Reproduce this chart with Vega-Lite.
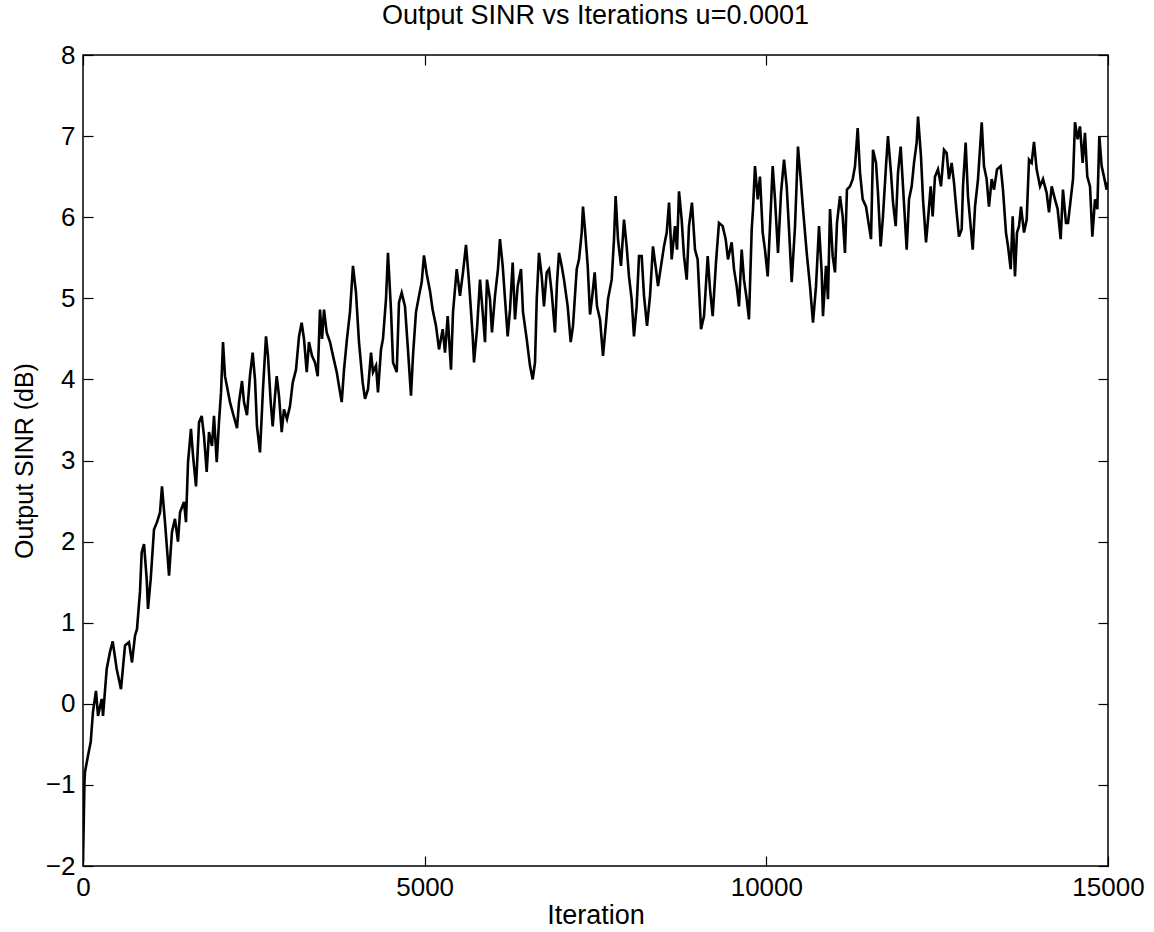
{
  "$schema": "https://vega.github.io/schema/vega-lite/v6.json",
  "autosize": {"type": "none"},
  "width": 1025,
  "height": 811,
  "padding": {"left": 83, "top": 55, "right": 46, "bottom": 66},
  "background": "white",
  "title": {
    "text": "Output SINR vs Iterations u=0.0001",
    "fontSize": 27,
    "fontWeight": "normal",
    "font": "Liberation Sans",
    "color": "black",
    "anchor": "middle",
    "offset": 12
  },
  "config": {
    "view": {"stroke": "black", "strokeWidth": 1.5},
    "axis": {
      "labelFont": "Liberation Sans",
      "titleFont": "Liberation Sans",
      "labelFontSize": 26,
      "titleFontSize": 26,
      "titleFontWeight": "normal",
      "labelColor": "black",
      "titleColor": "black",
      "tickColor": "black",
      "domainColor": "black",
      "tickSize": -10,
      "tickWidth": 1.2,
      "labelFlush": false,
      "grid": false
    }
  },
  "data": {
    "values": [
      {"iteration": 0, "sinr": -1.95},
      {"iteration": 22, "sinr": -0.95},
      {"iteration": 29, "sinr": -0.84},
      {"iteration": 73, "sinr": -0.64},
      {"iteration": 113, "sinr": -0.47},
      {"iteration": 146, "sinr": -0.1},
      {"iteration": 190, "sinr": 0.16},
      {"iteration": 220, "sinr": -0.15},
      {"iteration": 274, "sinr": 0.06},
      {"iteration": 293, "sinr": -0.15},
      {"iteration": 347, "sinr": 0.43},
      {"iteration": 395, "sinr": 0.64},
      {"iteration": 435, "sinr": 0.77},
      {"iteration": 493, "sinr": 0.43},
      {"iteration": 556, "sinr": 0.18},
      {"iteration": 615, "sinr": 0.72},
      {"iteration": 673, "sinr": 0.76},
      {"iteration": 717, "sinr": 0.51},
      {"iteration": 761, "sinr": 0.84},
      {"iteration": 790, "sinr": 0.92},
      {"iteration": 834, "sinr": 1.38},
      {"iteration": 859, "sinr": 1.87},
      {"iteration": 893, "sinr": 1.97},
      {"iteration": 932, "sinr": 1.54},
      {"iteration": 951, "sinr": 1.17},
      {"iteration": 991, "sinr": 1.54},
      {"iteration": 1039, "sinr": 2.15},
      {"iteration": 1083, "sinr": 2.24},
      {"iteration": 1127, "sinr": 2.36},
      {"iteration": 1156, "sinr": 2.68},
      {"iteration": 1200, "sinr": 2.24},
      {"iteration": 1259, "sinr": 1.58},
      {"iteration": 1302, "sinr": 2.12},
      {"iteration": 1346, "sinr": 2.28},
      {"iteration": 1390, "sinr": 2.0},
      {"iteration": 1420, "sinr": 2.36},
      {"iteration": 1478, "sinr": 2.49},
      {"iteration": 1507, "sinr": 2.24},
      {"iteration": 1537, "sinr": 2.98},
      {"iteration": 1580, "sinr": 3.39},
      {"iteration": 1610, "sinr": 3.06},
      {"iteration": 1654, "sinr": 2.68},
      {"iteration": 1698, "sinr": 3.47},
      {"iteration": 1737, "sinr": 3.55},
      {"iteration": 1771, "sinr": 3.3},
      {"iteration": 1810, "sinr": 2.86},
      {"iteration": 1844, "sinr": 3.35},
      {"iteration": 1888, "sinr": 3.18},
      {"iteration": 1917, "sinr": 3.55},
      {"iteration": 1957, "sinr": 2.98},
      {"iteration": 1990, "sinr": 3.47},
      {"iteration": 2020, "sinr": 3.84},
      {"iteration": 2049, "sinr": 4.46},
      {"iteration": 2078, "sinr": 4.04},
      {"iteration": 2151, "sinr": 3.72},
      {"iteration": 2195, "sinr": 3.58},
      {"iteration": 2254, "sinr": 3.4},
      {"iteration": 2283, "sinr": 3.72},
      {"iteration": 2327, "sinr": 3.98},
      {"iteration": 2356, "sinr": 3.72},
      {"iteration": 2400, "sinr": 3.56},
      {"iteration": 2444, "sinr": 4.05},
      {"iteration": 2483, "sinr": 4.33},
      {"iteration": 2517, "sinr": 4.0},
      {"iteration": 2546, "sinr": 3.42},
      {"iteration": 2590, "sinr": 3.1},
      {"iteration": 2634, "sinr": 3.88},
      {"iteration": 2678, "sinr": 4.53},
      {"iteration": 2707, "sinr": 4.29},
      {"iteration": 2747, "sinr": 3.72},
      {"iteration": 2776, "sinr": 3.42},
      {"iteration": 2810, "sinr": 3.8},
      {"iteration": 2835, "sinr": 4.04},
      {"iteration": 2868, "sinr": 3.8},
      {"iteration": 2908, "sinr": 3.35},
      {"iteration": 2941, "sinr": 3.63},
      {"iteration": 2985, "sinr": 3.51},
      {"iteration": 3029, "sinr": 3.67},
      {"iteration": 3069, "sinr": 3.96},
      {"iteration": 3117, "sinr": 4.12},
      {"iteration": 3161, "sinr": 4.53},
      {"iteration": 3200, "sinr": 4.7},
      {"iteration": 3234, "sinr": 4.5},
      {"iteration": 3274, "sinr": 4.09},
      {"iteration": 3307, "sinr": 4.46},
      {"iteration": 3351, "sinr": 4.29},
      {"iteration": 3395, "sinr": 4.21},
      {"iteration": 3435, "sinr": 4.04},
      {"iteration": 3468, "sinr": 4.86},
      {"iteration": 3498, "sinr": 4.5},
      {"iteration": 3527, "sinr": 4.86},
      {"iteration": 3566, "sinr": 4.58},
      {"iteration": 3615, "sinr": 4.46},
      {"iteration": 3659, "sinr": 4.29},
      {"iteration": 3713, "sinr": 4.09},
      {"iteration": 3746, "sinr": 3.92},
      {"iteration": 3786, "sinr": 3.72},
      {"iteration": 3820, "sinr": 4.12},
      {"iteration": 3863, "sinr": 4.5},
      {"iteration": 3907, "sinr": 4.83},
      {"iteration": 3951, "sinr": 5.4},
      {"iteration": 3995, "sinr": 5.07},
      {"iteration": 4039, "sinr": 4.46},
      {"iteration": 4093, "sinr": 3.96},
      {"iteration": 4127, "sinr": 3.76},
      {"iteration": 4171, "sinr": 3.88},
      {"iteration": 4215, "sinr": 4.33},
      {"iteration": 4244, "sinr": 4.09},
      {"iteration": 4288, "sinr": 4.17},
      {"iteration": 4317, "sinr": 3.84},
      {"iteration": 4361, "sinr": 4.37},
      {"iteration": 4390, "sinr": 4.5},
      {"iteration": 4434, "sinr": 4.99},
      {"iteration": 4463, "sinr": 5.56},
      {"iteration": 4507, "sinr": 4.86},
      {"iteration": 4537, "sinr": 4.21},
      {"iteration": 4591, "sinr": 4.09},
      {"iteration": 4624, "sinr": 4.95},
      {"iteration": 4664, "sinr": 5.07},
      {"iteration": 4712, "sinr": 4.9},
      {"iteration": 4752, "sinr": 4.41},
      {"iteration": 4800, "sinr": 3.8},
      {"iteration": 4829, "sinr": 4.29},
      {"iteration": 4873, "sinr": 4.83},
      {"iteration": 4917, "sinr": 5.03},
      {"iteration": 4957, "sinr": 5.2},
      {"iteration": 4990, "sinr": 5.53},
      {"iteration": 5030, "sinr": 5.3},
      {"iteration": 5078, "sinr": 5.09},
      {"iteration": 5117, "sinr": 4.86},
      {"iteration": 5166, "sinr": 4.66},
      {"iteration": 5210, "sinr": 4.37},
      {"iteration": 5264, "sinr": 4.62},
      {"iteration": 5298, "sinr": 4.33},
      {"iteration": 5337, "sinr": 4.78},
      {"iteration": 5385, "sinr": 4.12},
      {"iteration": 5415, "sinr": 4.83},
      {"iteration": 5469, "sinr": 5.36},
      {"iteration": 5517, "sinr": 5.03},
      {"iteration": 5561, "sinr": 5.32},
      {"iteration": 5605, "sinr": 5.66},
      {"iteration": 5649, "sinr": 5.2},
      {"iteration": 5703, "sinr": 4.53},
      {"iteration": 5722, "sinr": 4.21},
      {"iteration": 5766, "sinr": 4.62},
      {"iteration": 5810, "sinr": 5.23},
      {"iteration": 5849, "sinr": 4.83},
      {"iteration": 5883, "sinr": 4.46},
      {"iteration": 5912, "sinr": 5.23},
      {"iteration": 5956, "sinr": 4.99},
      {"iteration": 5985, "sinr": 4.58},
      {"iteration": 6029, "sinr": 5.03},
      {"iteration": 6073, "sinr": 5.36},
      {"iteration": 6102, "sinr": 5.73},
      {"iteration": 6142, "sinr": 5.4},
      {"iteration": 6176, "sinr": 4.99},
      {"iteration": 6215, "sinr": 4.53},
      {"iteration": 6249, "sinr": 4.86},
      {"iteration": 6288, "sinr": 5.44},
      {"iteration": 6322, "sinr": 4.74},
      {"iteration": 6361, "sinr": 5.15},
      {"iteration": 6410, "sinr": 5.36},
      {"iteration": 6439, "sinr": 4.83},
      {"iteration": 6493, "sinr": 4.5},
      {"iteration": 6541, "sinr": 4.17},
      {"iteration": 6581, "sinr": 4.0},
      {"iteration": 6615, "sinr": 4.21},
      {"iteration": 6640, "sinr": 4.99},
      {"iteration": 6673, "sinr": 5.56},
      {"iteration": 6713, "sinr": 5.27},
      {"iteration": 6746, "sinr": 4.9},
      {"iteration": 6786, "sinr": 5.32},
      {"iteration": 6820, "sinr": 5.36},
      {"iteration": 6859, "sinr": 5.07},
      {"iteration": 6907, "sinr": 4.58},
      {"iteration": 6937, "sinr": 5.2},
      {"iteration": 6966, "sinr": 5.56},
      {"iteration": 7005, "sinr": 5.4},
      {"iteration": 7039, "sinr": 5.23},
      {"iteration": 7093, "sinr": 4.9},
      {"iteration": 7137, "sinr": 4.46},
      {"iteration": 7171, "sinr": 4.66},
      {"iteration": 7225, "sinr": 5.36},
      {"iteration": 7259, "sinr": 5.48},
      {"iteration": 7298, "sinr": 5.81},
      {"iteration": 7317, "sinr": 6.13},
      {"iteration": 7346, "sinr": 5.85},
      {"iteration": 7386, "sinr": 5.4},
      {"iteration": 7420, "sinr": 4.8},
      {"iteration": 7449, "sinr": 5.0},
      {"iteration": 7488, "sinr": 5.32},
      {"iteration": 7522, "sinr": 4.9},
      {"iteration": 7566, "sinr": 4.74},
      {"iteration": 7610, "sinr": 4.29},
      {"iteration": 7654, "sinr": 4.7},
      {"iteration": 7683, "sinr": 4.99},
      {"iteration": 7737, "sinr": 5.23},
      {"iteration": 7771, "sinr": 5.73},
      {"iteration": 7795, "sinr": 6.26},
      {"iteration": 7829, "sinr": 5.73},
      {"iteration": 7873, "sinr": 5.4},
      {"iteration": 7917, "sinr": 5.97},
      {"iteration": 7956, "sinr": 5.64},
      {"iteration": 7990, "sinr": 5.27},
      {"iteration": 8029, "sinr": 4.99},
      {"iteration": 8063, "sinr": 4.53},
      {"iteration": 8102, "sinr": 4.9},
      {"iteration": 8137, "sinr": 5.52},
      {"iteration": 8176, "sinr": 5.52},
      {"iteration": 8210, "sinr": 5.03},
      {"iteration": 8254, "sinr": 4.66},
      {"iteration": 8298, "sinr": 5.03},
      {"iteration": 8341, "sinr": 5.64},
      {"iteration": 8385, "sinr": 5.36},
      {"iteration": 8415, "sinr": 5.15},
      {"iteration": 8459, "sinr": 5.4},
      {"iteration": 8502, "sinr": 5.64},
      {"iteration": 8542, "sinr": 5.81},
      {"iteration": 8576, "sinr": 6.18},
      {"iteration": 8615, "sinr": 5.48},
      {"iteration": 8663, "sinr": 5.89},
      {"iteration": 8693, "sinr": 5.6},
      {"iteration": 8722, "sinr": 6.32},
      {"iteration": 8761, "sinr": 5.97},
      {"iteration": 8795, "sinr": 5.52},
      {"iteration": 8835, "sinr": 5.23},
      {"iteration": 8868, "sinr": 5.89},
      {"iteration": 8912, "sinr": 6.18},
      {"iteration": 8956, "sinr": 5.6},
      {"iteration": 8995, "sinr": 5.48},
      {"iteration": 9044, "sinr": 4.62},
      {"iteration": 9088, "sinr": 4.78},
      {"iteration": 9142, "sinr": 5.52},
      {"iteration": 9176, "sinr": 5.11},
      {"iteration": 9215, "sinr": 4.78},
      {"iteration": 9263, "sinr": 5.44},
      {"iteration": 9307, "sinr": 5.93},
      {"iteration": 9361, "sinr": 5.89},
      {"iteration": 9405, "sinr": 5.73},
      {"iteration": 9439, "sinr": 5.48},
      {"iteration": 9493, "sinr": 5.69},
      {"iteration": 9527, "sinr": 5.36},
      {"iteration": 9566, "sinr": 5.15},
      {"iteration": 9600, "sinr": 4.9},
      {"iteration": 9639, "sinr": 5.6},
      {"iteration": 9673, "sinr": 5.23},
      {"iteration": 9713, "sinr": 4.99},
      {"iteration": 9746, "sinr": 4.74},
      {"iteration": 9786, "sinr": 5.85},
      {"iteration": 9805, "sinr": 6.1},
      {"iteration": 9834, "sinr": 6.63},
      {"iteration": 9874, "sinr": 6.22},
      {"iteration": 9907, "sinr": 6.5},
      {"iteration": 9947, "sinr": 5.81},
      {"iteration": 9980, "sinr": 5.6},
      {"iteration": 10020, "sinr": 5.27},
      {"iteration": 10054, "sinr": 5.89},
      {"iteration": 10093, "sinr": 6.63},
      {"iteration": 10127, "sinr": 6.22},
      {"iteration": 10171, "sinr": 5.56},
      {"iteration": 10215, "sinr": 6.3},
      {"iteration": 10259, "sinr": 6.71},
      {"iteration": 10298, "sinr": 6.38},
      {"iteration": 10332, "sinr": 5.85},
      {"iteration": 10371, "sinr": 5.2},
      {"iteration": 10420, "sinr": 5.89},
      {"iteration": 10463, "sinr": 6.87},
      {"iteration": 10503, "sinr": 6.47},
      {"iteration": 10537, "sinr": 6.1},
      {"iteration": 10591, "sinr": 5.56},
      {"iteration": 10639, "sinr": 5.15},
      {"iteration": 10683, "sinr": 4.7},
      {"iteration": 10727, "sinr": 5.15},
      {"iteration": 10771, "sinr": 5.89},
      {"iteration": 10810, "sinr": 5.32},
      {"iteration": 10829, "sinr": 4.78},
      {"iteration": 10873, "sinr": 5.4},
      {"iteration": 10902, "sinr": 4.99},
      {"iteration": 10932, "sinr": 6.1},
      {"iteration": 10971, "sinr": 5.52},
      {"iteration": 11005, "sinr": 5.32},
      {"iteration": 11034, "sinr": 5.93},
      {"iteration": 11078, "sinr": 6.26},
      {"iteration": 11117, "sinr": 6.01},
      {"iteration": 11151, "sinr": 5.56},
      {"iteration": 11180, "sinr": 6.34},
      {"iteration": 11224, "sinr": 6.38},
      {"iteration": 11264, "sinr": 6.47},
      {"iteration": 11298, "sinr": 6.63},
      {"iteration": 11337, "sinr": 7.1},
      {"iteration": 11371, "sinr": 6.55},
      {"iteration": 11410, "sinr": 6.22},
      {"iteration": 11459, "sinr": 6.13},
      {"iteration": 11488, "sinr": 5.97},
      {"iteration": 11532, "sinr": 5.73},
      {"iteration": 11561, "sinr": 6.83},
      {"iteration": 11605, "sinr": 6.67},
      {"iteration": 11634, "sinr": 6.3},
      {"iteration": 11673, "sinr": 5.64},
      {"iteration": 11707, "sinr": 6.01},
      {"iteration": 11751, "sinr": 6.63},
      {"iteration": 11780, "sinr": 7.0},
      {"iteration": 11824, "sinr": 6.55},
      {"iteration": 11854, "sinr": 6.18},
      {"iteration": 11893, "sinr": 5.89},
      {"iteration": 11927, "sinr": 6.55},
      {"iteration": 11966, "sinr": 6.87},
      {"iteration": 12000, "sinr": 6.38},
      {"iteration": 12054, "sinr": 5.6},
      {"iteration": 12088, "sinr": 6.22},
      {"iteration": 12127, "sinr": 6.38},
      {"iteration": 12161, "sinr": 6.67},
      {"iteration": 12200, "sinr": 6.92},
      {"iteration": 12220, "sinr": 7.24},
      {"iteration": 12263, "sinr": 6.75},
      {"iteration": 12293, "sinr": 6.22},
      {"iteration": 12337, "sinr": 5.69},
      {"iteration": 12366, "sinr": 5.97},
      {"iteration": 12405, "sinr": 6.38},
      {"iteration": 12434, "sinr": 6.01},
      {"iteration": 12468, "sinr": 6.5},
      {"iteration": 12512, "sinr": 6.59},
      {"iteration": 12556, "sinr": 6.38},
      {"iteration": 12600, "sinr": 6.83},
      {"iteration": 12639, "sinr": 6.79},
      {"iteration": 12673, "sinr": 6.47},
      {"iteration": 12712, "sinr": 6.67},
      {"iteration": 12746, "sinr": 6.43},
      {"iteration": 12785, "sinr": 6.06},
      {"iteration": 12819, "sinr": 5.76},
      {"iteration": 12859, "sinr": 5.85},
      {"iteration": 12878, "sinr": 6.38},
      {"iteration": 12917, "sinr": 6.92},
      {"iteration": 12951, "sinr": 6.26},
      {"iteration": 12990, "sinr": 5.89},
      {"iteration": 13020, "sinr": 5.6},
      {"iteration": 13054, "sinr": 6.13},
      {"iteration": 13098, "sinr": 6.47},
      {"iteration": 13152, "sinr": 7.17},
      {"iteration": 13185, "sinr": 6.63},
      {"iteration": 13224, "sinr": 6.47},
      {"iteration": 13258, "sinr": 6.13},
      {"iteration": 13298, "sinr": 6.47},
      {"iteration": 13332, "sinr": 6.34},
      {"iteration": 13376, "sinr": 6.59},
      {"iteration": 13429, "sinr": 6.63},
      {"iteration": 13463, "sinr": 6.34},
      {"iteration": 13507, "sinr": 5.81},
      {"iteration": 13537, "sinr": 5.64},
      {"iteration": 13576, "sinr": 5.36},
      {"iteration": 13605, "sinr": 6.01},
      {"iteration": 13639, "sinr": 5.27},
      {"iteration": 13668, "sinr": 5.81},
      {"iteration": 13698, "sinr": 5.89},
      {"iteration": 13727, "sinr": 6.13},
      {"iteration": 13771, "sinr": 5.81},
      {"iteration": 13810, "sinr": 5.97},
      {"iteration": 13844, "sinr": 6.71},
      {"iteration": 13883, "sinr": 6.67},
      {"iteration": 13917, "sinr": 6.93},
      {"iteration": 13956, "sinr": 6.59},
      {"iteration": 14005, "sinr": 6.38},
      {"iteration": 14049, "sinr": 6.47},
      {"iteration": 14102, "sinr": 6.3},
      {"iteration": 14137, "sinr": 6.06},
      {"iteration": 14176, "sinr": 6.38},
      {"iteration": 14224, "sinr": 6.22},
      {"iteration": 14263, "sinr": 6.1},
      {"iteration": 14307, "sinr": 5.73},
      {"iteration": 14341, "sinr": 6.34},
      {"iteration": 14385, "sinr": 5.93},
      {"iteration": 14415, "sinr": 5.93},
      {"iteration": 14454, "sinr": 6.22},
      {"iteration": 14488, "sinr": 6.47},
      {"iteration": 14517, "sinr": 7.17},
      {"iteration": 14556, "sinr": 6.96},
      {"iteration": 14590, "sinr": 7.12},
      {"iteration": 14629, "sinr": 6.67},
      {"iteration": 14663, "sinr": 7.04},
      {"iteration": 14697, "sinr": 6.5},
      {"iteration": 14737, "sinr": 6.38},
      {"iteration": 14771, "sinr": 5.76},
      {"iteration": 14810, "sinr": 6.22},
      {"iteration": 14844, "sinr": 6.1},
      {"iteration": 14873, "sinr": 7.0},
      {"iteration": 14907, "sinr": 6.63},
      {"iteration": 14941, "sinr": 6.5},
      {"iteration": 14980, "sinr": 6.34},
      {"iteration": 15000, "sinr": 6.43}
    ]
  },
  "layer": [
    {
      "mark": {"type": "line", "color": "black", "strokeWidth": 2.6, "strokeJoin": "miter", "clip": true},
      "encoding": {
        "x": {
          "field": "iteration",
          "type": "quantitative",
          "scale": {"domain": [0, 15000], "nice": false, "zero": false},
          "axis": {
            "orient": "bottom",
            "title": "Iteration",
            "values": [0, 5000, 10000, 15000],
            "format": "d",
            "labelPadding": 18,
            "titlePadding": 2,
            "titleFontSize": 27,
            "domain": false
          }
        },
        "y": {
          "field": "sinr",
          "type": "quantitative",
          "scale": {"domain": [-2, 8], "nice": false, "zero": false},
          "axis": {
            "orient": "left",
            "title": "Output SINR (dB)",
            "values": [-2, -1, 0, 1, 2, 3, 4, 5, 6, 7, 8],
            "format": "d",
            "labelPadding": 18,
            "titlePadding": 8,
            "titleFontSize": 25,
            "domain": false
          }
        }
      }
    },
    {
      "mark": {"type": "line", "opacity": 0},
      "encoding": {
        "x": {
          "field": "iteration",
          "type": "quantitative",
          "axis": {
            "orient": "top",
            "title": null,
            "labels": false,
            "values": [0, 5000, 10000, 15000],
            "domain": false
          }
        },
        "y": {
          "field": "sinr",
          "type": "quantitative",
          "axis": {
            "orient": "right",
            "title": null,
            "labels": false,
            "values": [-2, -1, 0, 1, 2, 3, 4, 5, 6, 7, 8],
            "domain": false
          }
        }
      }
    }
  ],
  "resolve": {"axis": {"x": "independent", "y": "independent"}}
}
